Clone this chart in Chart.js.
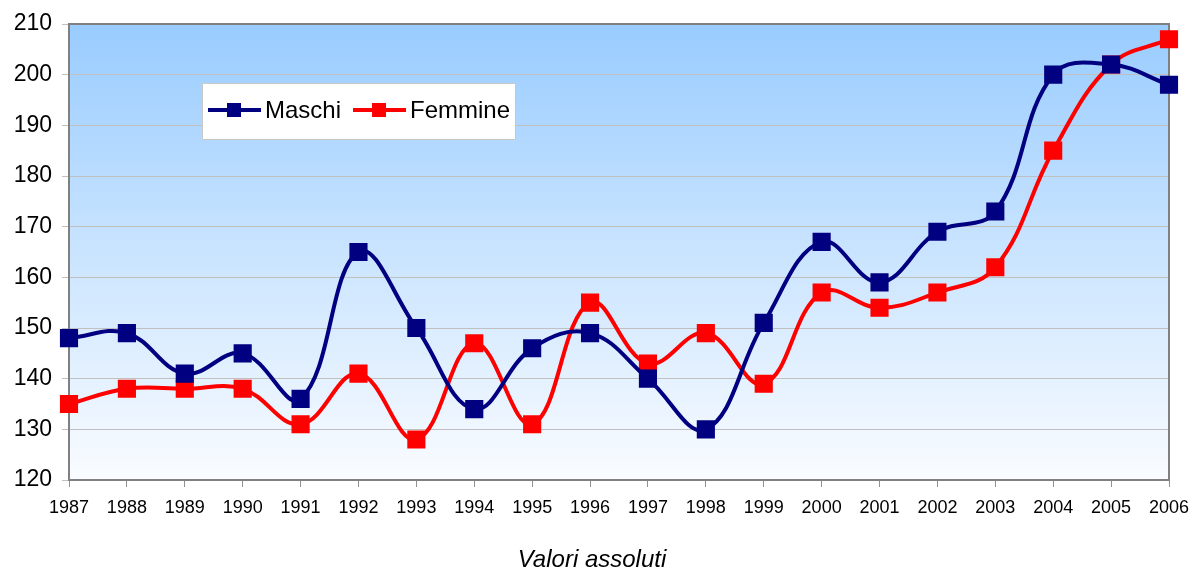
<!DOCTYPE html>
<html>
<head>
<meta charset="utf-8">
<script src="https://cdn.jsdelivr.net/npm/chart.js@4/dist/chart.umd.min.js"></script>
<style>
  html, body { margin: 0; padding: 0; background: #fff; }
  #wrap { width: 1192px; height: 571px; }
</style>
</head>
<body>
<div id="wrap"><canvas id="chart" width="1192" height="571"></canvas></div>
<script>
// --- dati ---
const anni = ["1987","1988","1989","1990","1991","1992","1993","1994","1995","1996",
              "1997","1998","1999","2000","2001","2002","2003","2004","2005","2006"];
const maschi  = [148,149,141,145,136,165,150,134,146,149,140,130,151,167,159,169,173,200,202,198];
const femmine = [135,138,138,138,131,141,128,147,131,155,143,149,139,157,154,157,162,185,202,207];
const yTicks  = [120,130,140,150,160,170,180,190,200,210];
const didascalia = "Valori assoluti";

const FONT = "'Liberation Sans', Arial, sans-serif";

// sfondo sfumato dell'area del grafico + cornice
const plotBackground = {
  id: "plotBackground",
  beforeDraw(chart) {
    const { ctx, chartArea: a } = chart;
    const g = ctx.createLinearGradient(0, a.top, 0, a.bottom);
    g.addColorStop(0, "#99CCFF");
    g.addColorStop(1, "#FAFCFF");
    ctx.save();
    ctx.fillStyle = g;
    ctx.fillRect(a.left, a.top, a.right - a.left, a.bottom - a.top);
    ctx.restore();
  },
  beforeDatasetsDraw(chart) {
    const { ctx, chartArea: a } = chart;
    ctx.save();
    ctx.strokeStyle = "#808080";
    ctx.lineWidth = 2;
    ctx.strokeRect(a.left, a.top, a.right - a.left, a.bottom - a.top);
    ctx.restore();
  }
};

// legenda dentro l'area del grafico + didascalia sotto
const boxLegend = {
  id: "boxLegend",
  afterDraw(chart) {
    const { ctx, chartArea: a } = chart;
    const x0 = a.left + 133, y0 = a.top + 59, w = 313, h = 56;
    ctx.save();
    ctx.fillStyle = "#fff";
    ctx.fillRect(x0, y0, w, h);
    ctx.strokeStyle = "#c8c8c8";
    ctx.lineWidth = 1;
    ctx.strokeRect(x0 + 0.5, y0 + 0.5, w, h);
    const cy = y0 + 27;
    let x = x0 + 6;
    ctx.font = "24px " + FONT;
    ctx.textBaseline = "middle";
    chart.data.datasets.forEach(ds => {
      ctx.strokeStyle = ds.borderColor;
      ctx.lineWidth = 4;
      ctx.beginPath();
      ctx.moveTo(x, cy);
      ctx.lineTo(x + 53, cy);
      ctx.stroke();
      ctx.fillStyle = ds.borderColor;
      ctx.fillRect(x + 19, cy - 7, 14, 14);
      ctx.fillStyle = "#000";
      ctx.fillText(ds.label, x + 57, cy + 1);
      x += 57 + ctx.measureText(ds.label).width + 12;
    });

    // didascalia
    ctx.font = "italic 24px " + FONT;
    ctx.textAlign = "center";
    ctx.fillText(didascalia, 592, a.bottom + 80);
    ctx.restore();
  }
};

new Chart(document.getElementById("chart"), {
  type: "line",
  data: {
    labels: anni,
    datasets: [
      {
        label: "Maschi",
        data: maschi,
        borderColor: "#000080",
        backgroundColor: "#000080",
        borderWidth: 4,
        tension: 0.4,
        pointStyle: "rect",
        pointRadius: 10,
        pointHoverRadius: 10,
        clip: false
      },
      {
        label: "Femmine",
        data: femmine,
        borderColor: "#FF0000",
        backgroundColor: "#FF0000",
        borderWidth: 4,
        tension: 0.4,
        pointStyle: "rect",
        pointRadius: 10,
        pointHoverRadius: 10,
        clip: false
      }
    ]
  },
  options: {
    responsive: false,
    animation: false,
    layout: { padding: { top: 24, right: 23, bottom: 0, left: 0 } },
    plugins: {
      legend: { display: false },
      tooltip: { enabled: false },
      title: { display: false }
    },
    scales: {
      x: {
        offset: false,
        grid: { drawOnChartArea: false, drawTicks: true, tickLength: 7, color: "#909090", lineWidth: 1 },
        border: { display: false },
        ticks: { color: "#000", font: { family: FONT, size: 18 }, padding: 10, maxRotation: 0, autoSkip: false },
        afterFit(scale) {
          scale.height = 91;
          scale.paddingLeft = 0;
          scale.paddingRight = 0;
        }
      },
      y: {
        min: 120,
        max: 210,
        afterBuildTicks(scale) { scale.ticks = yTicks.map(v => ({ value: v })); },
        grid: { color: "#c0c0c0", lineWidth: 1, drawTicks: true, tickLength: 7 },
        border: { display: false },
        ticks: { color: "#000", font: { family: FONT, size: 23 }, padding: 10 },
        afterFit(scale) {
          scale.width = 69;
          scale.paddingTop = 0;
          scale.paddingBottom = 0;
        }
      }
    }
  },
  plugins: [plotBackground, boxLegend]
});
</script>
</body>
</html>
